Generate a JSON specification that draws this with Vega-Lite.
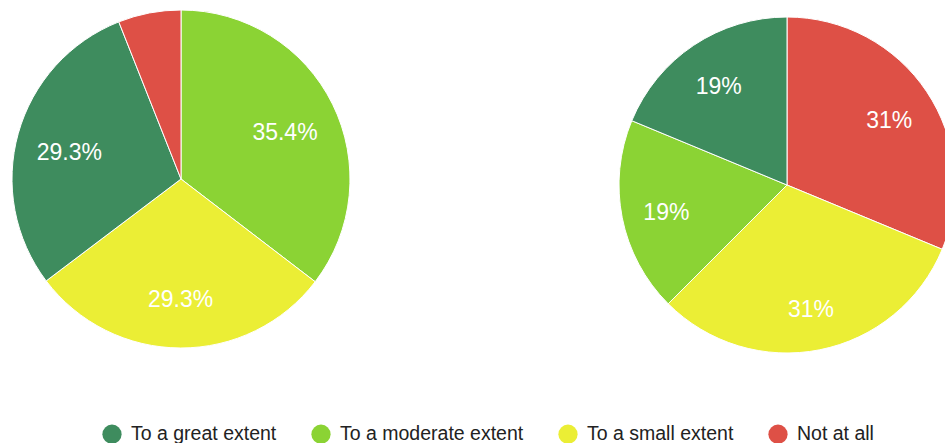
{
  "$schema": "https://vega.github.io/schema/vega-lite/v6.json",
  "padding": 0,
  "background": "white",
  "spacing": 255,
  "config": {
    "view": {"stroke": null},
    "font": "Liberation Sans",
    "legend": {"padding": 0}
  },
  "datasets": {
    "left": [
      {"category": "To a moderate extent", "value": 35.4, "ord": 1, "label": "35.4%"},
      {"category": "To a small extent", "value": 29.3, "ord": 2, "label": "29.3%"},
      {"category": "To a great extent", "value": 29.3, "ord": 3, "label": "29.3%"},
      {"category": "Not at all", "value": 6.0, "ord": 4, "label": "6.1%"}
    ],
    "right": [
      {"category": "Not at all", "value": 31.25, "ord": 1, "label": "31%"},
      {"category": "To a small extent", "value": 31.25, "ord": 2, "label": "31%"},
      {"category": "To a moderate extent", "value": 18.75, "ord": 3, "label": "19%"},
      {"category": "To a great extent", "value": 18.75, "ord": 4, "label": "19%"}
    ]
  },
  "resolve": {"scale": {"theta": "independent", "color": "shared"}},
  "hconcat": [
    {
      "width": 362,
      "height": 358,
      "data": {"name": "left"},
      "layer": [
        {
          "mark": {"type": "arc", "outerRadius": 169, "stroke": "white", "strokeWidth": 1},
          "encoding": {
            "theta": {"field": "value", "type": "quantitative", "stack": true},
            "order": {"field": "ord", "type": "quantitative"},
            "color": {
              "field": "category",
              "type": "nominal",
              "scale": {
                "domain": ["To a great extent", "To a moderate extent", "To a small extent", "Not at all"],
                "range": ["#3e8c5e", "#8bd334", "#ebee35", "#de5046"]
              },
              "legend": {
                "orient": "none",
                "legendX": 102,
                "legendY": 424,
                "direction": "horizontal",
                "title": null,
                "symbolType": "circle",
                "symbolSize": 370,
                "symbolStrokeWidth": 0,
                "labelFontSize": 19.5,
                "labelFont": "Liberation Sans",
                "labelColor": "#222222",
                "labelOffset": 9,
                "labelLimit": 400,
                "columnPadding": 34
              }
            }
          }
        },
        {
          "mark": {"type": "text", "radius": 116, "dy": 5, "fontSize": 23, "fill": "white", "font": "Liberation Sans"},
          "encoding": {
            "theta": {"field": "value", "type": "quantitative", "stack": true},
            "order": {"field": "ord", "type": "quantitative"},
            "text": {"condition": {"test": "datum.value < 10", "value": ""}, "field": "label"}
          }
        }
      ]
    },
    {
      "width": 336,
      "height": 370,
      "data": {"name": "right"},
      "layer": [
        {
          "mark": {"type": "arc", "outerRadius": 168, "stroke": "white", "strokeWidth": 1},
          "encoding": {
            "theta": {"field": "value", "type": "quantitative", "stack": true},
            "order": {"field": "ord", "type": "quantitative"},
            "color": {
              "field": "category",
              "type": "nominal",
              "scale": {
                "domain": ["To a great extent", "To a moderate extent", "To a small extent", "Not at all"],
                "range": ["#3e8c5e", "#8bd334", "#ebee35", "#de5046"]
              },
              "legend": {
                "orient": "none",
                "legendX": 102,
                "legendY": 424,
                "direction": "horizontal",
                "title": null,
                "symbolType": "circle",
                "symbolSize": 370,
                "symbolStrokeWidth": 0,
                "labelFontSize": 19.5,
                "labelFont": "Liberation Sans",
                "labelColor": "#222222",
                "labelOffset": 9,
                "labelLimit": 400,
                "columnPadding": 34
              }
            }
          }
        },
        {
          "mark": {"type": "text", "radius": 123, "dy": 4, "fontSize": 23, "fill": "white", "font": "Liberation Sans"},
          "encoding": {
            "theta": {"field": "value", "type": "quantitative", "stack": true},
            "order": {"field": "ord", "type": "quantitative"},
            "text": {"field": "label"}
          }
        }
      ]
    }
  ]
}
